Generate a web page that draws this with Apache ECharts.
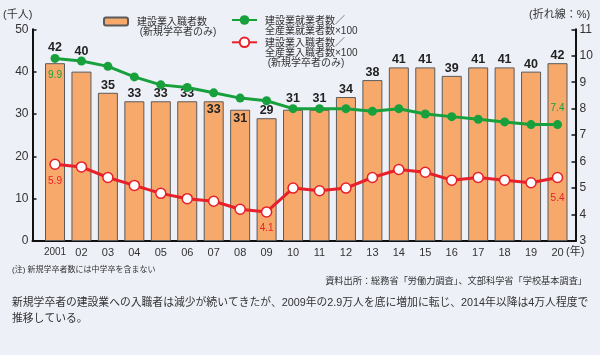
<!DOCTYPE html>
<html>
<head>
<meta charset="utf-8">
<script src="https://cdn.jsdelivr.net/npm/echarts@6/dist/echarts.min.js"></script>
<style>
html,body{margin:0;padding:0;background:#EEF0F8;}
#chart{width:600px;height:355px;}
</style>
</head>
<body>
<div id="chart"></div>
<script>
// ---- data ----
const years = ['2001','02','03','04','05','06','07','08','09','10','11','12','13','14','15','16','17','18','19','20'];
const entrants = [42,40,35,33,33,33,33,31,29,31,31,34,38,41,41,39,41,41,40,42];           // 千人 (bars)
const employedShare = [9.9,9.8,9.6,9.2,8.9,8.8,8.6,8.4,8.3,8.0,8.0,8.0,7.9,8.0,7.8,7.7,7.6,7.5,7.4,7.4]; // %
const entrantShare = [5.9,5.8,5.4,5.1,4.8,4.6,4.5,4.2,4.1,5.0,4.9,5.0,5.4,5.7,5.6,5.3,5.4,5.3,5.2,5.4];  // %
const leftTicks = [0,10,20,30,40,50];
const rightTicks = [3,4,5,6,7,8,9,10,11];

const barName = '建設業入職者数（新規学卒者のみ）';
const greenName = '建設業就業者数／全産業就業者数×100';
const redName = '建設業入職者数／全産業入職者数×100（新規学卒者のみ）';
const barLegendText = '建設業入職者数\n (新規学卒者のみ)';
const greenLegendText = '建設業就業者数／\n全産業就業者数×100';
const redLegendText = '建設業入職者数／\n全産業入職者数×100\n (新規学卒者のみ)';

// ---- styles ----
const BG = '#EEF0F8', ORANGE = '#F7A96C', GREEN = '#17A03C', RED = '#E8202A', INK = '#222';
const NUM = "'Liberation Sans', 'Noto Sans CJK JP', sans-serif";
const NARROW = "'Liberation Sans Narrow', 'Liberation Sans', sans-serif";
const CJK = "'Liberation Sans', 'Noto Sans CJK JP', sans-serif";
const font = px => px + "px 'Liberation Sans', 'Noto Sans CJK JP', sans-serif";

// label placement tweaks for bars (index -> label option)
const barLabelTweaks = {
  0: {distance: 9}, 1: {distance: 14}, 9: {distance: 5}, 10: {distance: 5},
  6: {position: 'insideTop', distance: 2}, 7: {position: 'insideTop', distance: 2}
};
const greenLabelAt = {0: 'bottom', 19: 'top'};
const redLabelAt = {0: 'bottom', 8: 'bottom', 19: 'bottom'};

const barData = entrants.map((v, i) => {
  const item = {value: [i, v]};
  if (barLabelTweaks[i]) item.label = barLabelTweaks[i];
  return item;
});
const greenData = employedShare.map((v, i) => {
  const item = {value: [i, v]};
  if (greenLabelAt[i]) item.label = {show: true, position: greenLabelAt[i], distance: 7};
  return item;
});
const redData = entrantShare.map((v, i) => {
  const item = {value: [i, v]};
  if (redLabelAt[i]) item.label = {show: true, position: redLabelAt[i], distance: i === 19 ? 10 : 6};
  return item;
});

const chart = echarts.init(document.getElementById('chart'), null, {renderer: 'canvas'});
const legendCommon = {padding: 0, selectedMode: false, formatter: () => '', itemGap: 0};
const option = {
  backgroundColor: BG,
  animation: false,
  textStyle: {fontFamily: CJK},
  grid: {left: 32.5, right: 24.5, top: 29.3, bottom: 114, containLabel: false},
  legend: [
    Object.assign({data: [barName], left: 103, top: 16.5, itemWidth: 24, itemHeight: 8}, legendCommon),
    Object.assign({data: [greenName], left: 231, top: 14, itemWidth: 25, itemHeight: 12}, legendCommon),
    Object.assign({data: [redName], left: 231, top: 36.3, itemWidth: 25, itemHeight: 12}, legendCommon)
  ],
  xAxis: {
    type: 'value', min: -0.851, max: 19.68,
    splitLine: {show: false},
    axisLine: {show: true, onZero: false, lineStyle: {color: '#111', width: 2}},
    axisTick: {show: false},
    axisLabel: {
      customValues: years.map((y, i) => i),
      formatter: v => (v === 0 ? '{n|' + years[v] + '}' : years[v]),
      margin: 6, fontSize: 11, color: '#333', fontFamily: NUM,
      rich: {n: {fontFamily: NARROW, fontSize: 10, color: '#333'}}
    }
  },
  yAxis: [
    {
      type: 'value', min: leftTicks[0], max: leftTicks[leftTicks.length - 1], interval: 10,
      position: 'left',
      splitLine: {show: false},
      axisLine: {show: true, onZero: false, lineStyle: {color: '#111', width: 2}},
      axisTick: {show: true, inside: true, length: 4, lineStyle: {color: '#111', width: 1.5}},
      axisLabel: {fontSize: 12, color: '#333', margin: 4, fontFamily: NUM}
    },
    {
      type: 'value', min: rightTicks[0], max: rightTicks[rightTicks.length - 1], interval: 1,
      position: 'right',
      splitLine: {show: false},
      axisLine: {show: true, onZero: false, lineStyle: {color: '#111', width: 2}},
      axisTick: {show: true, inside: true, length: 4, lineStyle: {color: '#111', width: 1.5}},
      axisLabel: {fontSize: 12, color: '#333', margin: 4, fontFamily: NUM}
    }
  ],
  series: [
    {
      name: barName, type: 'bar', yAxisIndex: 0, barWidth: 20,
      itemStyle: {color: ORANGE, borderColor: '#5a5a5a', borderWidth: 1},
      label: {show: true, position: 'top', distance: 1, formatter: p => p.value[1],
        fontFamily: NARROW, fontWeight: 'bold', fontSize: 12.5, color: INK},
      data: barData, z: 1
    },
    {
      name: greenName, type: 'line', yAxisIndex: 1,
      symbol: 'circle', symbolSize: 9,
      lineStyle: {color: GREEN, width: 3},
      itemStyle: {color: GREEN},
      label: {show: false, formatter: p => p.value[1].toFixed(1),
        fontFamily: NARROW, fontSize: 10, color: GREEN},
      data: greenData, z: 3
    },
    {
      name: redName, type: 'line', yAxisIndex: 1,
      symbol: 'circle', symbolSize: 10,
      lineStyle: {color: RED, width: 3},
      itemStyle: {color: '#ffffff', borderColor: RED, borderWidth: 1.5},
      label: {show: false, formatter: p => p.value[1].toFixed(1),
        fontFamily: NARROW, fontSize: 10, color: RED},
      data: redData, z: 3
    }
  ],
  graphic: [
    {type: 'text', left: 137, top: 17, style: {text: barLegendText, font: font(10), lineHeight: 10, fill: '#333'}},
    {type: 'text', left: 265, top: 16, style: {text: greenLegendText, font: font(10), lineHeight: 10, fill: '#333'}},
    {type: 'text', left: 265, top: 38, style: {text: redLegendText, font: font(10), lineHeight: 10, fill: '#333'}},
    {type: 'text', left: 3, top: 9, style: {text: '(千人)', font: font(11), fill: '#333'}},
    {type: 'text', left: 529, top: 9, style: {text: '(折れ線：%)', font: font(11), fill: '#333'}},
    {type: 'text', left: 566, top: 246, style: {text: '(年)', font: font(11), fill: '#333'}},
    {type: 'text', left: 12, top: 266, style: {text: '(注) 新規学卒者数には中学卒を含まない', font: font(8), fill: '#333'}},
    {type: 'text', right: 13, top: 277, style: {text: '資料出所：総務省「労働力調査」、文部科学省「学校基本調査」', font: font(9.2), fill: '#333'}},
    {type: 'text', left: 12, top: 298, style: {text: '新規学卒者の建設業への入職者は減少が続いてきたが、2009年の2.9万人を底に増加に転じ、2014年以降は4万人程度で', font: font(10.8), fill: '#333'}},
    {type: 'text', left: 12, top: 314, style: {text: '推移している。', font: font(10.8), fill: '#333'}}
  ]
};
chart.setOption(option);
</script>
</body>
</html>
